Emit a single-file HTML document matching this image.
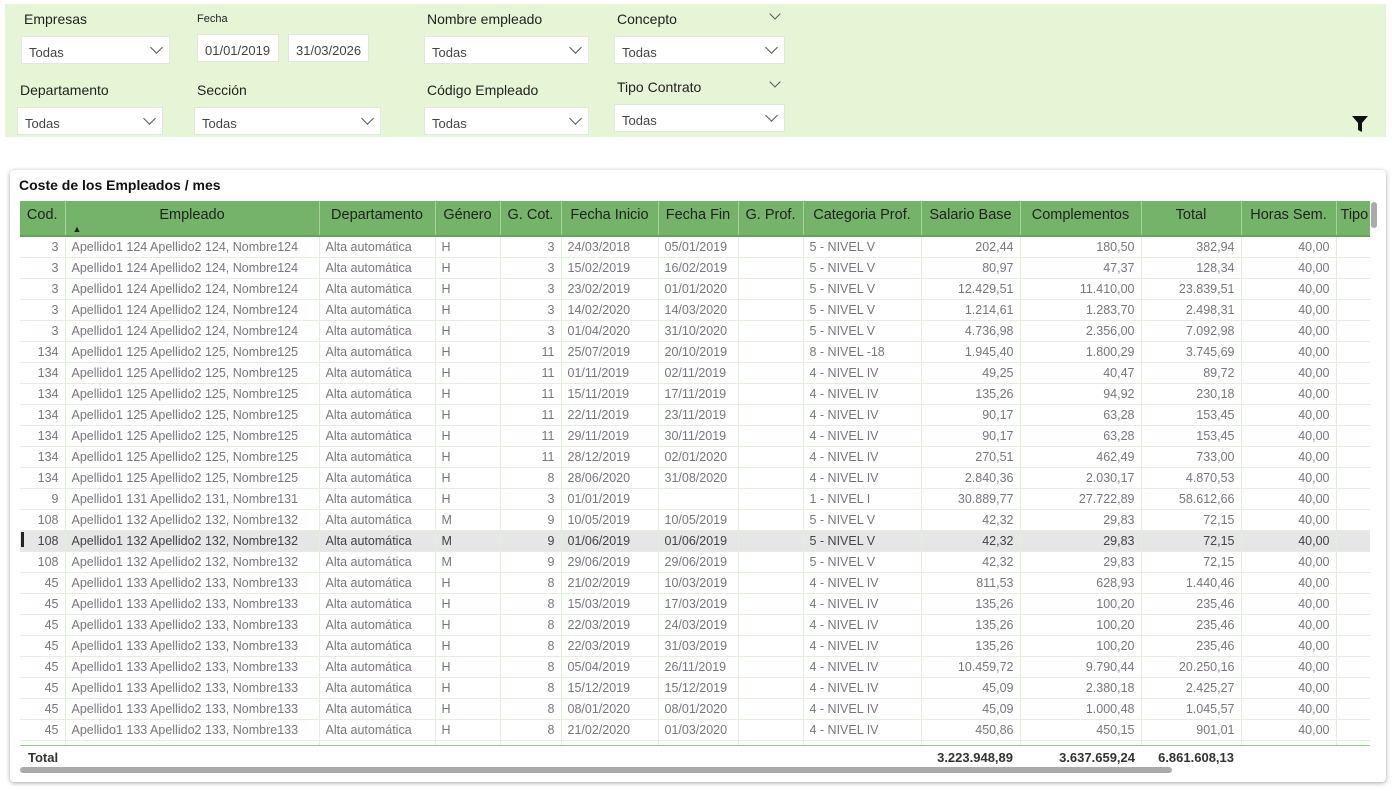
<!DOCTYPE html>
<html><head><meta charset="utf-8">
<style>
*{margin:0;padding:0;box-sizing:border-box}
body{width:1392px;height:791px;background:#fff;font-family:"Liberation Sans","DejaVu Sans",sans-serif;position:relative;overflow:hidden}
#panel{position:absolute;left:5px;top:4px;width:1381px;height:133px;background:#e6f5d6}
.lbl{position:absolute;font-size:14px;color:#222}
.box{position:absolute;background:#fff;height:28px;font-size:13px;color:#444;padding:8px 0 0 7px;border:1px solid #e0e8dc}
.box .ch{position:absolute;right:8px;top:6px;width:9px;height:9px;border-right:1px solid #555;border-bottom:1px solid #555;transform:rotate(45deg)}
.ch2{position:absolute;width:8px;height:8px;border-right:1px solid #555;border-bottom:1px solid #555;transform:rotate(45deg)}
#card{position:absolute;left:10px;top:170px;width:1376px;height:612px;background:#fff;border-radius:4px;box-shadow:0 1px 5px rgba(0,0,0,.35)}
#title{position:absolute;left:19px;top:177px;font-size:14px;font-weight:bold;color:#111}
#tw{position:absolute;left:20px;top:201px;width:1350px;height:566px;overflow:hidden}
table{border-collapse:collapse;table-layout:fixed;width:1356px;font-size:12.5px;white-space:nowrap}
th{background:#76b36a;color:#222;font-weight:normal;font-size:14.5px;height:35px;padding-bottom:7px;border-right:1px solid #a9d29e;text-align:center;overflow:hidden;border-bottom:2px solid #5ea653}
td{height:21px;color:#777;padding:0 6px;border-right:1px solid #e1f0dc;border-bottom:1px solid #e1f0dc;overflow:hidden}
td.r{text-align:right}
tr.sel td{background:#e6e6e6;color:#444}
#tot{position:absolute;left:20px;top:745px;width:1350px;height:22px;background:#fff;border-top:1px solid #8fcc8a}
#tot div{position:absolute;top:4px;font-size:13px;font-weight:bold;color:#333}
</style></head><body>
<div id="panel"></div>
<div class="lbl" style="left:24px;top:11px">Empresas</div>
<div class="box" style="left:21px;top:36px;width:149px">Todas<span class="ch"></span></div>
<div class="lbl" style="left:197px;top:13px;font-size:11px">Fecha</div>
<div class="box" style="left:197px;top:34px;width:82px;padding-left:7px">01/01/2019</div>
<div class="box" style="left:288px;top:34px;width:81px;padding-left:7px">31/03/2026</div>
<div class="lbl" style="left:427px;top:11px">Nombre empleado</div>
<div class="box" style="left:424px;top:36px;width:165px">Todas<span class="ch"></span></div>
<div class="lbl" style="left:617px;top:11px">Concepto</div>
<span class="ch2" style="left:771px;top:10px"></span>
<div class="box" style="left:614px;top:36px;width:171px">Todas<span class="ch"></span></div>
<div class="lbl" style="left:20px;top:82px">Departamento</div>
<div class="box" style="left:17px;top:107px;width:146px">Todas<span class="ch"></span></div>
<div class="lbl" style="left:197px;top:82px">Sección</div>
<div class="box" style="left:194px;top:107px;width:187px">Todas<span class="ch"></span></div>
<div class="lbl" style="left:427px;top:82px">Código Empleado</div>
<div class="box" style="left:424px;top:107px;width:165px">Todas<span class="ch"></span></div>
<div class="lbl" style="left:617px;top:79px">Tipo Contrato</div>
<span class="ch2" style="left:771px;top:78px"></span>
<div class="box" style="left:614px;top:104px;width:171px">Todas<span class="ch"></span></div>
<svg style="position:absolute;left:1351px;top:115px" width="18" height="18"><path d="M1 1h16l-6 7v9l-4-2v-7z" fill="#111"/></svg>
<div id="card"></div>
<div id="title">Coste de los Empleados / mes</div>
<div id="tw"><table>
<colgroup><col style="width:45px"><col style="width:254px"><col style="width:116px"><col style="width:65px"><col style="width:61px"><col style="width:97px"><col style="width:80px"><col style="width:65px"><col style="width:118px"><col style="width:99px"><col style="width:121px"><col style="width:100px"><col style="width:95px"><col style="width:40px"></colgroup>
<tr><th>Cod.</th><th style="position:relative">Empleado<span style="position:absolute;left:7px;bottom:1px;font-size:9px">▲</span></th><th>Departamento</th><th>Género</th><th>G. Cot.</th><th>Fecha Inicio</th><th>Fecha Fin</th><th>G. Prof.</th><th>Categoria Prof.</th><th>Salario Base</th><th>Complementos</th><th>Total</th><th>Horas Sem.</th><th style="text-align:left;padding-left:4px">Tipo</th></tr>
<tr><td class="r">3</td><td>Apellido1 124 Apellido2 124, Nombre124</td><td>Alta automática</td><td>H</td><td class="r">3</td><td>24/03/2018</td><td>05/01/2019</td><td></td><td>5 - NIVEL V</td><td class="r">202,44</td><td class="r">180,50</td><td class="r">382,94</td><td class="r">40,00</td><td></td></tr>
<tr><td class="r">3</td><td>Apellido1 124 Apellido2 124, Nombre124</td><td>Alta automática</td><td>H</td><td class="r">3</td><td>15/02/2019</td><td>16/02/2019</td><td></td><td>5 - NIVEL V</td><td class="r">80,97</td><td class="r">47,37</td><td class="r">128,34</td><td class="r">40,00</td><td></td></tr>
<tr><td class="r">3</td><td>Apellido1 124 Apellido2 124, Nombre124</td><td>Alta automática</td><td>H</td><td class="r">3</td><td>23/02/2019</td><td>01/01/2020</td><td></td><td>5 - NIVEL V</td><td class="r">12.429,51</td><td class="r">11.410,00</td><td class="r">23.839,51</td><td class="r">40,00</td><td></td></tr>
<tr><td class="r">3</td><td>Apellido1 124 Apellido2 124, Nombre124</td><td>Alta automática</td><td>H</td><td class="r">3</td><td>14/02/2020</td><td>14/03/2020</td><td></td><td>5 - NIVEL V</td><td class="r">1.214,61</td><td class="r">1.283,70</td><td class="r">2.498,31</td><td class="r">40,00</td><td></td></tr>
<tr><td class="r">3</td><td>Apellido1 124 Apellido2 124, Nombre124</td><td>Alta automática</td><td>H</td><td class="r">3</td><td>01/04/2020</td><td>31/10/2020</td><td></td><td>5 - NIVEL V</td><td class="r">4.736,98</td><td class="r">2.356,00</td><td class="r">7.092,98</td><td class="r">40,00</td><td></td></tr>
<tr><td class="r">134</td><td>Apellido1 125 Apellido2 125, Nombre125</td><td>Alta automática</td><td>H</td><td class="r">11</td><td>25/07/2019</td><td>20/10/2019</td><td></td><td>8 - NIVEL -18</td><td class="r">1.945,40</td><td class="r">1.800,29</td><td class="r">3.745,69</td><td class="r">40,00</td><td></td></tr>
<tr><td class="r">134</td><td>Apellido1 125 Apellido2 125, Nombre125</td><td>Alta automática</td><td>H</td><td class="r">11</td><td>01/11/2019</td><td>02/11/2019</td><td></td><td>4 - NIVEL IV</td><td class="r">49,25</td><td class="r">40,47</td><td class="r">89,72</td><td class="r">40,00</td><td></td></tr>
<tr><td class="r">134</td><td>Apellido1 125 Apellido2 125, Nombre125</td><td>Alta automática</td><td>H</td><td class="r">11</td><td>15/11/2019</td><td>17/11/2019</td><td></td><td>4 - NIVEL IV</td><td class="r">135,26</td><td class="r">94,92</td><td class="r">230,18</td><td class="r">40,00</td><td></td></tr>
<tr><td class="r">134</td><td>Apellido1 125 Apellido2 125, Nombre125</td><td>Alta automática</td><td>H</td><td class="r">11</td><td>22/11/2019</td><td>23/11/2019</td><td></td><td>4 - NIVEL IV</td><td class="r">90,17</td><td class="r">63,28</td><td class="r">153,45</td><td class="r">40,00</td><td></td></tr>
<tr><td class="r">134</td><td>Apellido1 125 Apellido2 125, Nombre125</td><td>Alta automática</td><td>H</td><td class="r">11</td><td>29/11/2019</td><td>30/11/2019</td><td></td><td>4 - NIVEL IV</td><td class="r">90,17</td><td class="r">63,28</td><td class="r">153,45</td><td class="r">40,00</td><td></td></tr>
<tr><td class="r">134</td><td>Apellido1 125 Apellido2 125, Nombre125</td><td>Alta automática</td><td>H</td><td class="r">11</td><td>28/12/2019</td><td>02/01/2020</td><td></td><td>4 - NIVEL IV</td><td class="r">270,51</td><td class="r">462,49</td><td class="r">733,00</td><td class="r">40,00</td><td></td></tr>
<tr><td class="r">134</td><td>Apellido1 125 Apellido2 125, Nombre125</td><td>Alta automática</td><td>H</td><td class="r">8</td><td>28/06/2020</td><td>31/08/2020</td><td></td><td>4 - NIVEL IV</td><td class="r">2.840,36</td><td class="r">2.030,17</td><td class="r">4.870,53</td><td class="r">40,00</td><td></td></tr>
<tr><td class="r">9</td><td>Apellido1 131 Apellido2 131, Nombre131</td><td>Alta automática</td><td>H</td><td class="r">3</td><td>01/01/2019</td><td></td><td></td><td>1 - NIVEL I</td><td class="r">30.889,77</td><td class="r">27.722,89</td><td class="r">58.612,66</td><td class="r">40,00</td><td></td></tr>
<tr><td class="r">108</td><td>Apellido1 132 Apellido2 132, Nombre132</td><td>Alta automática</td><td>M</td><td class="r">9</td><td>10/05/2019</td><td>10/05/2019</td><td></td><td>5 - NIVEL V</td><td class="r">42,32</td><td class="r">29,83</td><td class="r">72,15</td><td class="r">40,00</td><td></td></tr>
<tr class="sel"><td class="r">108</td><td>Apellido1 132 Apellido2 132, Nombre132</td><td>Alta automática</td><td>M</td><td class="r">9</td><td>01/06/2019</td><td>01/06/2019</td><td></td><td>5 - NIVEL V</td><td class="r">42,32</td><td class="r">29,83</td><td class="r">72,15</td><td class="r">40,00</td><td></td></tr>
<tr><td class="r">108</td><td>Apellido1 132 Apellido2 132, Nombre132</td><td>Alta automática</td><td>M</td><td class="r">9</td><td>29/06/2019</td><td>29/06/2019</td><td></td><td>5 - NIVEL V</td><td class="r">42,32</td><td class="r">29,83</td><td class="r">72,15</td><td class="r">40,00</td><td></td></tr>
<tr><td class="r">45</td><td>Apellido1 133 Apellido2 133, Nombre133</td><td>Alta automática</td><td>H</td><td class="r">8</td><td>21/02/2019</td><td>10/03/2019</td><td></td><td>4 - NIVEL IV</td><td class="r">811,53</td><td class="r">628,93</td><td class="r">1.440,46</td><td class="r">40,00</td><td></td></tr>
<tr><td class="r">45</td><td>Apellido1 133 Apellido2 133, Nombre133</td><td>Alta automática</td><td>H</td><td class="r">8</td><td>15/03/2019</td><td>17/03/2019</td><td></td><td>4 - NIVEL IV</td><td class="r">135,26</td><td class="r">100,20</td><td class="r">235,46</td><td class="r">40,00</td><td></td></tr>
<tr><td class="r">45</td><td>Apellido1 133 Apellido2 133, Nombre133</td><td>Alta automática</td><td>H</td><td class="r">8</td><td>22/03/2019</td><td>24/03/2019</td><td></td><td>4 - NIVEL IV</td><td class="r">135,26</td><td class="r">100,20</td><td class="r">235,46</td><td class="r">40,00</td><td></td></tr>
<tr><td class="r">45</td><td>Apellido1 133 Apellido2 133, Nombre133</td><td>Alta automática</td><td>H</td><td class="r">8</td><td>22/03/2019</td><td>31/03/2019</td><td></td><td>4 - NIVEL IV</td><td class="r">135,26</td><td class="r">100,20</td><td class="r">235,46</td><td class="r">40,00</td><td></td></tr>
<tr><td class="r">45</td><td>Apellido1 133 Apellido2 133, Nombre133</td><td>Alta automática</td><td>H</td><td class="r">8</td><td>05/04/2019</td><td>26/11/2019</td><td></td><td>4 - NIVEL IV</td><td class="r">10.459,72</td><td class="r">9.790,44</td><td class="r">20.250,16</td><td class="r">40,00</td><td></td></tr>
<tr><td class="r">45</td><td>Apellido1 133 Apellido2 133, Nombre133</td><td>Alta automática</td><td>H</td><td class="r">8</td><td>15/12/2019</td><td>15/12/2019</td><td></td><td>4 - NIVEL IV</td><td class="r">45,09</td><td class="r">2.380,18</td><td class="r">2.425,27</td><td class="r">40,00</td><td></td></tr>
<tr><td class="r">45</td><td>Apellido1 133 Apellido2 133, Nombre133</td><td>Alta automática</td><td>H</td><td class="r">8</td><td>08/01/2020</td><td>08/01/2020</td><td></td><td>4 - NIVEL IV</td><td class="r">45,09</td><td class="r">1.000,48</td><td class="r">1.045,57</td><td class="r">40,00</td><td></td></tr>
<tr><td class="r">45</td><td>Apellido1 133 Apellido2 133, Nombre133</td><td>Alta automática</td><td>H</td><td class="r">8</td><td>21/02/2020</td><td>01/03/2020</td><td></td><td>4 - NIVEL IV</td><td class="r">450,86</td><td class="r">450,15</td><td class="r">901,01</td><td class="r">40,00</td><td></td></tr>
<tr><td class="r">45</td><td>Apellido1 133 Apellido2 133, Nombre133</td><td>Alta automática</td><td>H</td><td class="r">8</td><td>02/04/2020</td><td>02/04/2020</td><td></td><td>4 - NIVEL IV</td><td class="r">0,00</td><td class="r">132,24</td><td class="r">132,24</td><td class="r">40,00</td><td></td></tr>
</table></div>
<div style="position:absolute;left:21px;top:532px;width:3px;height:15px;background:#222"></div>
<div id="tot">
<div style="left:8px">Total</div>
<div style="left:893px;width:100px;text-align:right">3.223.948,89</div>
<div style="left:994px;width:121px;text-align:right">3.637.659,24</div>
<div style="left:1114px;width:100px;text-align:right">6.861.608,13</div>
</div>
<div style="position:absolute;left:20px;top:767px;width:1152px;height:6px;background:#aaa;border-radius:3px"></div>
<div style="position:absolute;left:1371px;top:202px;width:6px;height:26px;background:#aaa;border-radius:3px"></div>
</body></html>
